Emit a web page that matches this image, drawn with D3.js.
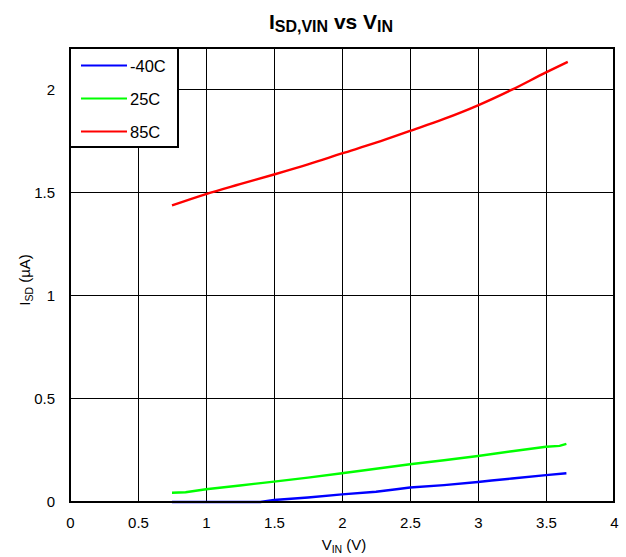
<!DOCTYPE html>
<html>
<head>
<meta charset="utf-8">
<script src="https://cdn.jsdelivr.net/npm/d3@7"></script>
<style>
  body { margin: 0; background: #fff; }
  svg { display: block; font-family: "Liberation Sans", Arial, sans-serif; }
</style>
</head>
<body>
<svg id="chart" width="626" height="557"></svg>
<script>
// Shutdown current vs input voltage at three temperatures
const seriesNames = ["-40C", "25C", "85C"];
const seriesColors = ["#0000ff", "#00ff00", "#ff0000"];

const vinM40 = [0.75, 1.0, 1.25, 1.4, 1.5, 1.75, 2.0, 2.25, 2.4, 2.5, 2.75, 3.0, 3.1, 3.25, 3.5, 3.65];
const isdM40 = [0.0, 0.0, 0.0, 0.0, 0.01, 0.022, 0.037, 0.05, 0.062, 0.07, 0.082, 0.097, 0.104, 0.114, 0.13, 0.139];

const vin25 = [0.75, 0.85, 1.0, 1.25, 1.5, 1.75, 2.0, 2.25, 2.5, 2.75, 3.0, 3.25, 3.5, 3.6, 3.65];
const isd25 = [0.045, 0.047, 0.062, 0.08, 0.099, 0.118, 0.139, 0.161, 0.183, 0.202, 0.223, 0.246, 0.268, 0.272, 0.282];

const vin85 = [0.75, 1.0, 1.25, 1.5, 1.75, 2.0, 2.25, 2.5, 2.75, 3.0, 3.25, 3.5, 3.66];
const isd85 = [1.437, 1.492, 1.540, 1.587, 1.636, 1.689, 1.741, 1.798, 1.856, 1.922, 1.998, 2.082, 2.133];

const xTicks = [0, 0.5, 1, 1.5, 2, 2.5, 3, 3.5, 4];
const yTicks = [0, 0.5, 1, 1.5, 2];

const svg = d3.select("#chart");
const margin = { left: 70, right: 12, top: 48, bottom: 55 };
const W = 626, H = 557;
const x = d3.scaleLinear().domain([0, 4]).range([margin.left, W - margin.right]);
const y = d3.scaleLinear().domain([0, 2.2]).range([H - margin.bottom, margin.top]);

// grid
const g = svg.append("g");
g.selectAll("line.gx").data(xTicks).join("line")
  .attr("x1", d => x(d)).attr("x2", d => x(d))
  .attr("y1", y(0)).attr("y2", y(2.2))
  .attr("stroke", "#000").attr("stroke-width", 1).attr("shape-rendering", "crispEdges");
g.selectAll("line.gy").data(yTicks).join("line")
  .attr("x1", x(0)).attr("x2", x(4))
  .attr("y1", d => y(d)).attr("y2", d => y(d))
  .attr("stroke", "#000").attr("stroke-width", 1).attr("shape-rendering", "crispEdges");

// axes (labels only, frame drawn separately)
const xAxis = d3.axisBottom(x).tickValues(xTicks).tickSize(0).tickPadding(15)
  .tickFormat(d3.format("~g"));
const yAxis = d3.axisLeft(y).tickValues(yTicks).tickSize(0).tickPadding(15)
  .tickFormat(d3.format("~g"));
const ax = svg.append("g").attr("transform", `translate(0,${y(0)})`).call(xAxis);
const ay = svg.append("g").attr("transform", `translate(${x(0)},0)`).call(yAxis);
[ax, ay].forEach(a => {
  a.select(".domain").remove();
  a.selectAll("text").attr("font-size", 15).attr("fill", "#000")
    .attr("font-family", "Liberation Sans, Arial, sans-serif");
});

// series lines
const line = d3.line().x(d => x(d[0])).y(d => y(d[1]));
const data = [
  d3.zip(vinM40, isdM40),
  d3.zip(vin25, isd25),
  d3.zip(vin85, isd85)
];
svg.append("g").selectAll("path").data(data).join("path")
  .attr("d", (d, i) => (i === 2 ? line.curve(d3.curveMonotoneX) : line.curve(d3.curveLinear))(d))
  .attr("fill", "none")
  .attr("stroke", (d, i) => seriesColors[i])
  .attr("stroke-width", 2.4);

// frame
svg.append("rect")
  .attr("x", x(0)).attr("y", y(2.2))
  .attr("width", x(4) - x(0)).attr("height", y(0) - y(2.2))
  .attr("fill", "none").attr("stroke", "#000").attr("stroke-width", 2);

// legend
const lg = svg.append("g");
lg.append("rect")
  .attr("x", x(0)).attr("y", y(2.2))
  .attr("width", 108).attr("height", 99)
  .attr("fill", "#fff").attr("stroke", "#000").attr("stroke-width", 2);
seriesNames.forEach((name, i) => {
  const ly = y(2.2) + 17.5 + i * 33;
  lg.append("line")
    .attr("x1", x(0) + 11).attr("x2", x(0) + 57)
    .attr("y1", ly).attr("y2", ly)
    .attr("stroke", seriesColors[i]).attr("stroke-width", 2);
  lg.append("text")
    .attr("x", x(0) + 60).attr("y", ly + 6)
    .attr("font-size", 16.5).attr("fill", "#000")
    .text(name);
});

// title
const title = svg.append("text")
  .attr("x", 331).attr("y", 29)
  .attr("text-anchor", "middle")
  .attr("font-size", 21).attr("font-weight", "bold").attr("fill", "#000");
title.append("tspan").text("I");
title.append("tspan").attr("font-size", 16).attr("dy", 3).text("SD,VIN");
title.append("tspan").attr("dy", -3).text(" vs V");
title.append("tspan").attr("font-size", 16).attr("dy", 3).text("IN");

// x-axis title
const xt = svg.append("text")
  .attr("x", 344).attr("y", 550)
  .attr("text-anchor", "middle").attr("font-size", 15).attr("fill", "#000");
xt.append("tspan").text("V");
xt.append("tspan").attr("font-size", 10.5).attr("dy", 2.5).text("IN");
xt.append("tspan").attr("dy", -2.5).text(" (V)");

// y-axis title
const yt = svg.append("text")
  .attr("transform", `translate(30,280) rotate(-90)`)
  .attr("text-anchor", "middle").attr("font-size", 15).attr("fill", "#000");
yt.append("tspan").text("I");
yt.append("tspan").attr("font-size", 10.5).attr("dy", 3).text("SD");
yt.append("tspan").attr("dy", -3).text(" (µA)");
</script>
</body>
</html>
